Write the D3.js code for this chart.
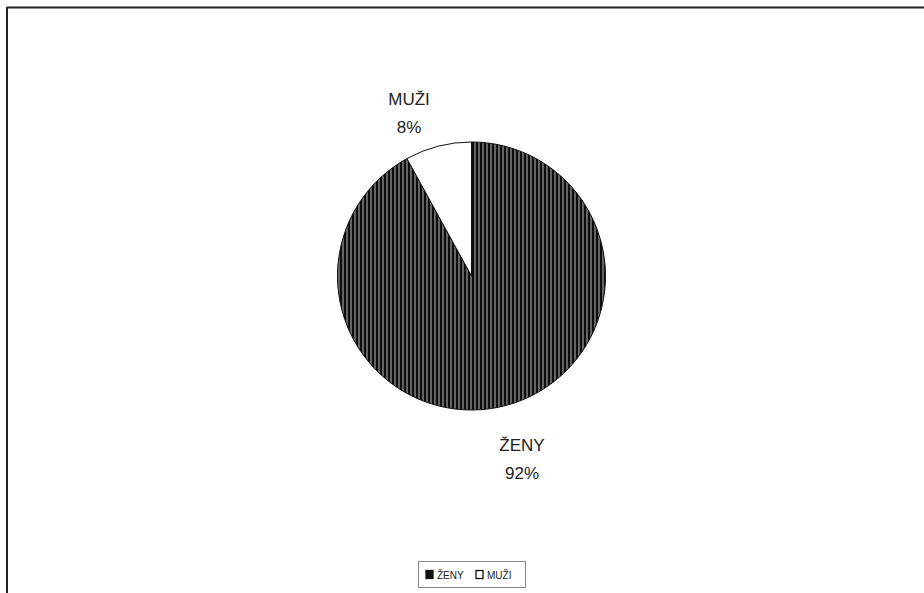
<!DOCTYPE html>
<html>
<head>
<meta charset="utf-8">
<script src="https://cdn.jsdelivr.net/npm/d3@7"></script>
<style>
  body { margin: 0; background: #fff; }
  text { font-family: "Liberation Sans", Arial, sans-serif; fill: #222; }
</style>
</head>
<body>
<svg id="chart" width="924" height="593"></svg>
<script>
const categories = ['ŽENY', 'MUŽI'];
const values = [92, 8];
const pctLabels = ['92%', '8%'];

const svg = d3.select('#chart');
const cx = 471.5, cy = 276, r = 134;

// striped fill for ŽENY
const defs = svg.append('defs');
const pat = defs.append('pattern')
  .attr('id', 'stripes')
  .attr('patternUnits', 'userSpaceOnUse')
  .attr('width', 4)
  .attr('height', 4);
pat.append('rect').attr('width', 4).attr('height', 4).attr('fill', '#d0d0d0');
pat.append('rect').attr('width', 3.1).attr('height', 4).attr('fill', '#0d0d0d');

// frame (top + left only visible)
svg.append('line').attr('x1', 7).attr('y1', 7.5).attr('x2', 924).attr('y2', 7.5)
  .attr('stroke', '#222').attr('stroke-width', 2);
svg.append('line').attr('x1', 7).attr('y1', 7).attr('x2', 7).attr('y2', 593)
  .attr('stroke', '#222').attr('stroke-width', 2);

const pie = d3.pie().sort(null);
const arcs = pie(values);
const arc = d3.arc().innerRadius(0).outerRadius(r);

const g = svg.append('g').attr('transform', `translate(${cx},${cy})`);
g.selectAll('path')
  .data(arcs)
  .join('path')
  .attr('d', arc)
  .attr('fill', (d, i) => i === 0 ? 'url(#stripes)' : '#fff')
  .attr('stroke', '#111')
  .attr('stroke-width', 1);

// labels
const labelPos = [[522, 451], [409, 105]];
const lbl = svg.append('g');
arcs.forEach((d, i) => {
  const t = lbl.append('text')
    .attr('x', labelPos[i][0])
    .attr('y', labelPos[i][1])
    .attr('text-anchor', 'middle')
    .style('font-size', '17px');
  t.append('tspan').attr('x', labelPos[i][0]).text(categories[i]);
  t.append('tspan').attr('x', labelPos[i][0]).attr('dy', 28).text(pctLabels[i]);
});

// legend
const leg = svg.append('g');
leg.append('rect').attr('x', 418.5).attr('y', 561.5).attr('width', 107).attr('height', 26)
  .attr('fill', '#fff').attr('stroke', '#888').attr('stroke-width', 1);
const items = [{x: 426, fill: '#111'}, {x: 476, fill: '#fff'}];
items.forEach((it, i) => {
  leg.append('rect').attr('x', it.x).attr('y', 570.5).attr('width', 7).attr('height', 8)
    .attr('fill', it.fill).attr('stroke', '#111').attr('stroke-width', 1.3);
  leg.append('text').attr('x', it.x + 11).attr('y', 579)
    .style('font-size', '10px').text(categories[i]);
});
</script>
</body>
</html>
